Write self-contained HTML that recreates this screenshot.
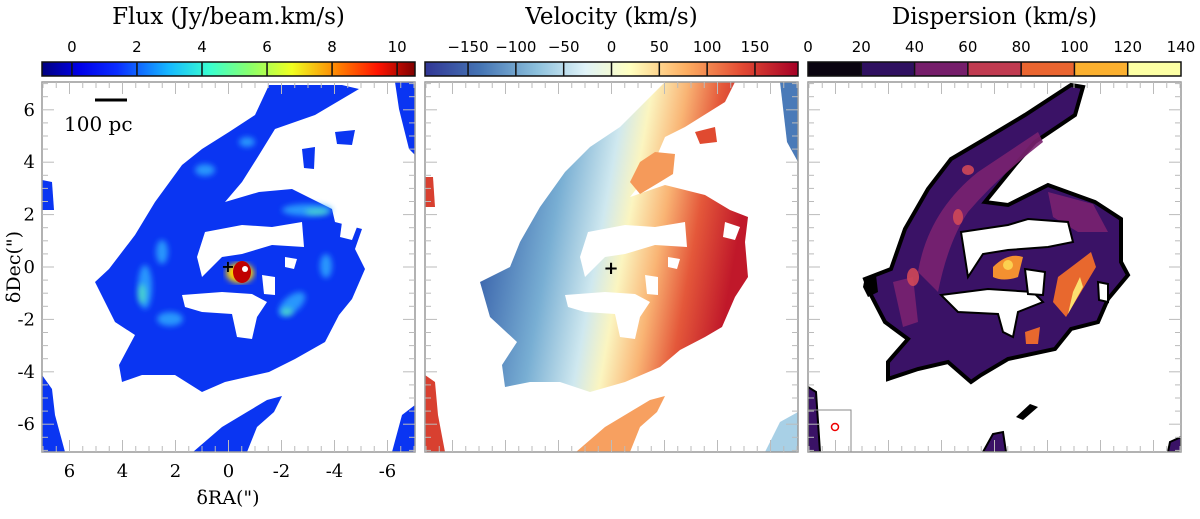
<!DOCTYPE html>
<html><head><meta charset="utf-8"><style>
body{margin:0;background:#fff;width:1200px;height:514px;overflow:hidden}
svg text{font-family:"DejaVu Sans","Liberation Sans",sans-serif}
.serif{font-family:"DejaVu Serif","Liberation Serif",serif}
</style></head><body>
<svg id="fig" width="1200" height="514" viewBox="0 0 1200 514" xmlns="http://www.w3.org/2000/svg">
<defs>
<linearGradient id="jet" x1="0" x2="1">
<stop offset="0" stop-color="#00007f"/><stop offset="0.1" stop-color="#0000e8"/><stop offset="0.2" stop-color="#0a2cff"/><stop offset="0.34" stop-color="#16b8ff"/><stop offset="0.45" stop-color="#39ffd0"/><stop offset="0.56" stop-color="#8cff6a"/><stop offset="0.67" stop-color="#f0ff20"/><stop offset="0.8" stop-color="#ff7a00"/><stop offset="0.9" stop-color="#ff1400"/><stop offset="1" stop-color="#7f0000"/>
</linearGradient>
<linearGradient id="rdylbu" x1="0" x2="1">
<stop offset="0" stop-color="#313695"/><stop offset="0.15" stop-color="#4575b4"/><stop offset="0.3" stop-color="#8cc0dc"/><stop offset="0.43" stop-color="#e0f3f8"/><stop offset="0.55" stop-color="#ffffbf"/><stop offset="0.7" stop-color="#fdae61"/><stop offset="0.85" stop-color="#e34a33"/><stop offset="1" stop-color="#a50026"/>
</linearGradient>
<linearGradient id="velmap" gradientUnits="userSpaceOnUse" x1="40" y1="150" x2="320" y2="200">
<stop offset="0.08" stop-color="#3e68ae"/><stop offset="0.3" stop-color="#78aed3"/><stop offset="0.47" stop-color="#cfe8ef"/><stop offset="0.56" stop-color="#fbf5c0"/><stop offset="0.68" stop-color="#f9b474"/><stop offset="0.8" stop-color="#e4583a"/><stop offset="0.95" stop-color="#c0182a"/>
</linearGradient>
<path id="diskF" d="M227,3 L300,3 L317,7 L273,33 L233,47 L217,73 L200,100 L183,120 L217,110 L250,107 L290,127 L293,140 L320,147 L313,167 L323,187 L310,217 L297,233 L283,260 L253,277 L227,290 L183,300 L160,310 L133,293 L100,293 L80,300 L77,283 L93,253 L73,240 L53,200 L67,187 L93,153 L113,120 L140,83 L160,67 L187,50 L213,33 Z"/>
<g id="holesF">
<path d="M163,150 L200,143 L230,145 L260,140 L262,165 L230,163 L200,172 L180,175 L160,195 L155,175 Z"/>
<path d="M140,213 L180,210 L210,212 L225,220 L215,235 L210,257 L195,255 L190,232 L160,230 L143,225 Z"/>
<path d="M220,193 L233,195 L233,213 L222,212 Z"/>
<path d="M243,175 L255,177 L252,187 L243,185 Z"/>
<path d="M300,140 L315,145 L310,158 L298,155 Z"/>
</g>
<g id="edgesF">
<path d="M0,293 L10,307 L13,333 L23,370 L0,370 Z"/>
<path d="M0,98 L10,100 L12,128 L0,128 Z"/>
<path d="M151,370 L180,345 L205,330 L225,318 L240,314 L232,330 L215,345 L205,370 Z"/>
<path d="M350,370 L360,333 L373,323 L373,370 Z"/>
<path d="M353,0 L373,0 L373,73 L367,67 L357,27 Z"/>
<path d="M293,50 L313,48 L310,63 L295,62 Z"/>
<path d="M260,67 L273,65 L272,87 L262,86 Z"/>
</g>
<path id="diskV" d="M240,0 L310,0 L300,20 L260,45 L240,55 L225,90 L205,115 L240,103 L280,113 L305,128 L323,135 L320,160 L323,195 L310,215 L297,245 L280,255 L255,268 L235,285 L200,300 L165,310 L135,300 L105,300 L80,305 L77,283 L92,260 L65,235 L55,200 L85,185 L95,160 L115,125 L140,90 L165,65 L195,45 L220,20 Z"/>
<path id="diskD" d="M263,3 L275,5 L267,33 L227,60 L207,83 L177,120 L200,123 L240,103 L287,120 L313,137 L313,180 L320,193 L300,217 L290,240 L263,247 L247,267 L200,277 L173,293 L163,300 L140,280 L110,287 L80,297 L80,280 L100,257 L77,240 L63,213 L57,197 L83,187 L97,147 L120,107 L143,77 L177,57 L217,33 Z"/>
<g id="holesD">
<path d="M153,150 L200,143 L220,137 L260,140 L265,160 L240,165 L200,168 L175,172 L160,195 Z"/>
<path d="M133,213 L180,207 L225,210 L235,220 L210,230 L205,255 L195,250 L190,232 L150,230 Z"/>
<path d="M217,187 L237,190 L235,213 L220,212 Z"/>
<path d="M290,200 L300,202 L300,220 L291,218 Z"/>
</g>
<clipPath id="pc"><rect x="0" y="0" width="373" height="370"/></clipPath>
<filter id="blur"><feGaussianBlur stdDeviation="3"/></filter>
</defs>

<g transform="translate(42,82)" clip-path="url(#pc)">
<use href="#diskF" fill="#0a35f2"/>
<g filter="url(#blur)" fill="#2fa8ff" opacity="0.85">
<ellipse cx="103" cy="205" rx="7" ry="22"/>
<ellipse cx="128" cy="237" rx="13" ry="7"/>
<ellipse cx="265" cy="128" rx="25" ry="6"/>
<ellipse cx="284" cy="184" rx="6" ry="12"/>
<ellipse cx="250" cy="222" rx="16" ry="8" transform="rotate(-40 250 222)"/>
<ellipse cx="163" cy="88" rx="10" ry="6"/>
<ellipse cx="120" cy="170" rx="6" ry="12"/>
<ellipse cx="205" cy="60" rx="8" ry="5"/>
</g>
<g filter="url(#blur)" fill="#60ffb0" opacity="0.6">
<ellipse cx="100" cy="212" rx="4" ry="10"/>
<ellipse cx="275" cy="130" rx="12" ry="3"/>
<ellipse cx="245" cy="230" rx="6" ry="4"/>
</g>
<use href="#holesF" fill="#fff"/>
<use href="#edgesF" fill="#0a35f2"/>
<ellipse cx="198" cy="191" rx="14" ry="10" fill="#ffd000" filter="url(#blur)"/>
<ellipse cx="200" cy="190" rx="9" ry="11" fill="#c00000"/>
<ellipse cx="203" cy="187" rx="3" ry="3" fill="#fff"/>
</g>

<g transform="translate(425,82)" clip-path="url(#pc)">
<use href="#diskV" fill="url(#velmap)"/>
<path d="M205,100 L215,80 L230,70 L250,72 L248,92 L235,100 L215,112 Z" fill="#f59a5a"/>
<use href="#holesF" fill="#fff"/>
<path d="M0,293 L10,300 L13,333 L20,370 L0,370 Z" fill="#d84030"/>
<path d="M0,95 L8,95 L10,125 L0,125 Z" fill="#d84030"/>
<path d="M151,370 L180,345 L205,330 L225,318 L240,314 L232,330 L215,345 L205,370 Z" fill="#f7a060"/>
<path d="M355,0 L373,0 L373,80 L362,60 Z" fill="#4a7ab8"/>
<path d="M340,370 L355,340 L373,330 L373,370 Z" fill="#a8d0e6"/>
<path d="M270,50 L290,45 L292,60 L275,62 Z" fill="#e04a30"/>
</g>

<g transform="translate(808,82)" clip-path="url(#pc)">
<use href="#diskD" fill="#3a1266" stroke="#000" stroke-width="4"/>
<g fill="#7a2270" opacity="0.9">
<path d="M110,190 Q120,130 170,90 Q200,70 230,50 L235,60 Q190,95 160,130 Q140,160 130,210 Z"/>
<path d="M240,110 L285,122 L300,150 L270,150 L245,135 Z"/>
<path d="M85,200 L105,195 L110,240 L95,245 Z"/>
</g>
<g fill="#d04858" opacity="0.9">
<ellipse cx="105" cy="195" rx="6" ry="9"/>
<ellipse cx="160" cy="88" rx="6" ry="5"/>
<ellipse cx="150" cy="135" rx="5" ry="8"/>
</g>
<path d="M185,185 Q200,170 215,175 L210,195 Q195,200 185,195 Z" fill="#f39030"/>
<ellipse cx="200" cy="183" rx="5" ry="5" fill="#fcd050"/>
<path d="M250,195 Q270,180 283,170 L288,185 L270,215 L258,235 L245,220 Z" fill="#e8682e"/>
<path d="M265,210 L272,195 L275,205 L260,232 Z" fill="#fce070"/>
<path d="M217,250 L232,245 L230,262 L218,262 Z" fill="#e8682e"/>
<use href="#holesD" fill="#fff" stroke="#000" stroke-width="2"/>
<path d="M0,305 L8,310 L12,370 L0,370 Z" fill="#3a1266" stroke="#000" stroke-width="2"/>
<path d="M175,370 L185,352 L195,350 L198,370 Z" fill="#3a1266" stroke="#000" stroke-width="2"/>
<path d="M208,335 L222,322 L230,325 L215,338 Z" fill="#000"/>
<path d="M362,360 L373,355 L373,370 L360,370 Z" fill="#3a1266" stroke="#000" stroke-width="2"/>
<path d="M57,195 L68,193 L70,210 L60,215 L55,205 Z" fill="#000"/>
<rect x="0" y="328" width="43" height="42" fill="none" stroke="#888" stroke-width="1"/>
<ellipse cx="27" cy="345" rx="3.5" ry="3.5" fill="none" stroke="#e00" stroke-width="1.5"/>
</g>

<g id="axes"></g>
<g>
<line x1="95" y1="100" x2="127" y2="100" stroke="#000" stroke-width="3"/>
<text class="serif" x="64" y="131" font-size="20">100 pc</text>
</g>
<text x="228" y="272" font-size="16" text-anchor="middle" font-weight="bold">+</text>
<text x="611" y="274" font-size="18" text-anchor="middle" font-weight="bold">+</text>
<text class="serif" x="228" y="504" font-size="19" text-anchor="middle">δRA(")</text>
<text class="serif" x="0" y="0" font-size="19" text-anchor="middle" transform="translate(20,267) rotate(-90)">δDec(")</text>
</svg>
<script>
const panelX=[42,425,808];
const titles=["Flux (Jy/beam.km/s)","Velocity (km/s)","Dispersion (km/s)"];
const fluxTicks=[0,2,4,6,8,10];
const fluxRange=[-0.92,10.55];
const velTicks=[-150,-100,-50,0,50,100,150];
const velRange=[-195,195];
const dispTicks=[0,20,40,60,80,100,120,140];
const dispRange=[0,140];
const dispColors=["#0a0410","#2f1060","#761e6b","#c03a50","#ea6530","#fbb02f","#fcffa4"];
const raTicks=[6,4,2,0,-2,-4,-6];
const decTicks=[6,4,2,0,-2,-4,-6];
const NS="http://www.w3.org/2000/svg";
const ax=document.getElementById('axes');
const W=373,H=370,top0=82,cbY=62,cbH=14;
function mk(t,a,p){const e=document.createElementNS(NS,t);for(const k in a)e.setAttribute(k,a[k]);(p||ax).appendChild(e);return e;}
function xs(px,v){return px+W/2-v*26.5;}
function ys(v){return top0+185-v*26.2;}
function cbx(px,r,v){return px+(v-r[0])/(r[1]-r[0])*W;}
const cbs=[[fluxTicks,fluxRange,"url(#jet)"],[velTicks,velRange,"url(#rdylbu)"],[dispTicks,dispRange,null]];
cbs.forEach((c,i)=>{
  const px=panelX[i];
  const t=mk('text',{x:px+W/2,y:24,'font-size':23,'text-anchor':'middle',class:'serif'});
  
  
  t.textContent=titles[i];
  const g=mk('g',{});
  
  
  if(c[2]){mk('rect',{x:px,y:cbY,width:W,height:cbH,fill:c[2]},g);}
  else{for(let k=0;k<dispColors.length;k++){const x0=cbx(px,c[1],c[0][k]),x1=cbx(px,c[1],c[0][k+1]);mk('rect',{x:x0,y:cbY,width:x1-x0,height:cbH,fill:dispColors[k]},g);}}
  c[0].forEach(v=>{const x=cbx(px,c[1],v);
    if(x>px+1&&x<px+W-1)mk('line',{x1:x,x2:x,y1:cbY,y2:cbY+cbH,stroke:'#111','stroke-width':1.5},g);
    const l=mk('text',{x:x,y:52,'font-size':15,'text-anchor':'middle'},g);
    
    
    l.textContent=v<0?'\u2212'+(-v):v;});
  mk('rect',{x:px,y:cbY,width:W,height:cbH,fill:'none',stroke:'#111','stroke-width':1.5},g);
  const f=mk('rect',{x:px,y:top0,width:W,height:H,fill:'none',stroke:'#999','stroke-width':1.5});
  
  
  for(let v=-7;v<=7;v+=0.5){const x=xs(px,v);const len=Number.isInteger(v/2)?12:6;
    mk('line',{x1:x,x2:x,y1:top0,y2:top0+len,stroke:'#bbb'});mk('line',{x1:x,x2:x,y1:top0+H,y2:top0+H-len,stroke:'#bbb'});
    const y=ys(v);if(y>top0&&y<top0+H){mk('line',{x1:px,x2:px+len,y1:y,y2:y,stroke:'#bbb'});mk('line',{x1:px+W,x2:px+W-len,y1:y,y2:y,stroke:'#bbb'});}}
});
raTicks.forEach(v=>{const t=mk('text',{x:xs(42,v),y:477,'font-size':18,'text-anchor':'middle',class:'serif'});
  
  
  t.textContent=v;});
decTicks.forEach(v=>{const t=mk('text',{x:35,y:ys(v)+6,'font-size':18,'text-anchor':'end',class:'serif'});
  
  
  t.textContent=v;});
</script>
</body></html>
